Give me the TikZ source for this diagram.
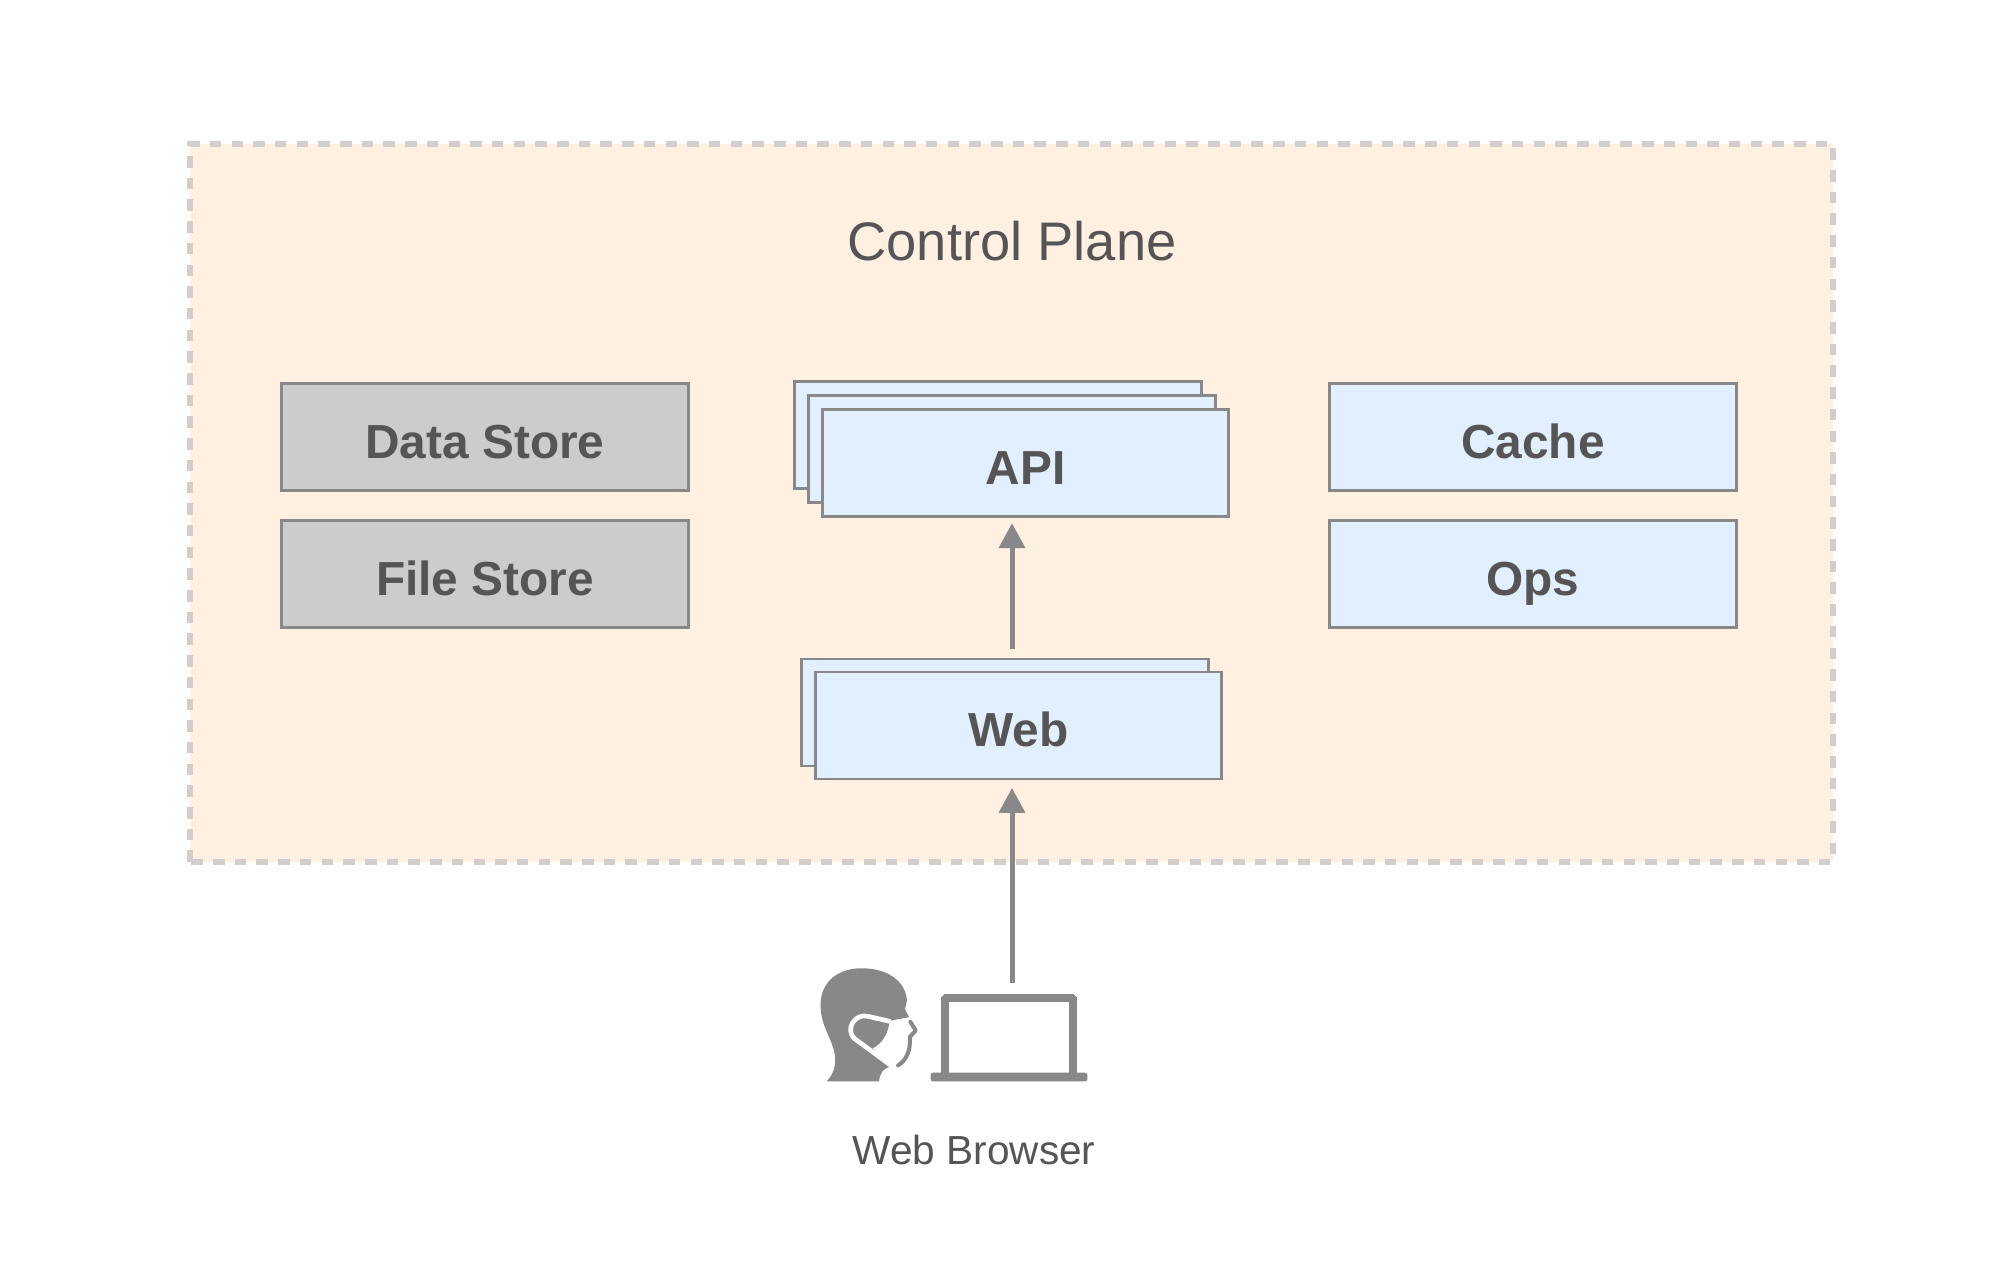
\documentclass[tikz,border=0pt]{standalone}
\usepackage{fontspec}
\setmainfont{Liberation Sans}
\usetikzlibrary{positioning,arrows.meta}
\definecolor{planefill}{HTML}{FFF0E2}
\definecolor{planeline}{HTML}{D3CDCB}
\definecolor{bluefill}{HTML}{E1EFFF}
\definecolor{storefill}{HTML}{CCCCCC}
\definecolor{edgegray}{HTML}{888888}
\definecolor{textgray}{HTML}{555555}

\begin{document}
\begin{tikzpicture}[
    node distance=0.30cm and 1.0cm,
    plane/.style={fill=planefill, draw=planeline, line width=0.052cm, dash pattern=on 0.115cm off 0.102cm},
    box/.style={rectangle, draw=edgegray, line width=0.028cm, outer sep=0pt, minimum width=4.065cm, minimum height=1.07cm, align=center, inner sep=0pt, text height=0.43cm, text depth=0pt, text=textgray, font=\fontsize{13.6}{16}\selectfont\bfseries},
    service/.style={box, fill=bluefill},
    store/.style={box, fill=storefill},
    arrow/.style={-{Triangle[length=2.5mm,width=2.57mm]}, draw=edgegray, fill=edgegray, line width=0.05cm},
    label/.style={text=textgray, inner sep=0pt, anchor=base},
]
\useasboundingbox (0,0) rectangle (20.06,12.64);

% ====== Control plane ======
\draw[plane] (1.90,4.02) rectangle (18.33,11.20);
\node[label, font=\fontsize{15.45}{18}\selectfont] (title) at (10.12,10.03) {Control Plane};

% ====== Stores ======
\node[store] (data) at (4.85,8.27) {Data Store};
\node[store, below=of data] (file) {File Store};

% ====== Cache and ops ======
\node[service] (cache) at (15.33,8.27) {Cache};
\node[service, below=of cache] (ops) {Ops};

% ====== API stack ======
\node[service] (apiBack) at (9.98,8.29) {};
\node[service] (apiMid) at (10.12,8.15) {};
\node[service] (apiFront) at (10.255,8.01) {API};

% ====== Web stack ======
\node[service] (webBack) at (10.05,5.515) {};
\node[service] (webFront) at (10.185,5.385) {Web};

% ====== Browser ======
\node[rectangle, draw=edgegray, line width=0.078cm, rounded corners=0.3pt, outer sep=0pt, inner sep=0pt, minimum width=1.28cm, minimum height=0.79cm] (laptop) at (10.09,2.265) {};
\node[rectangle, fill=edgegray, rounded corners=0.6pt, outer sep=0pt, inner sep=0pt, minimum width=1.567cm, minimum height=0.087cm] (base) at (10.09,1.87) {};
\node[label, font=\fontsize{11.55}{14}\selectfont] (browser) at (9.74,1.00) {Web Browser};

% Head with mask
\begin{scope}[shift={(7.80,3.24)}, x=0.00333cm, y=-0.00333cm]
\fill[edgegray] (140,425) .. controls (160,405) and (172,375) .. (163,335)
    .. controls (150,285) and (122,255) .. (122,195)
    .. controls (122,125) and (175,85) .. (245,85)
    .. controls (320,85) and (375,120) .. (382,180)
    -- (376,208) -- (388,232) -- (330,243)
    .. controls (325,280) and (310,310) .. (278,326)
    -- (335,380) .. controls (310,385) and (300,400) .. (298,425) -- cycle;
\draw[white, line width=0.047cm, line join=round] (332,245) -- (262,229)
    .. controls (225,221) and (193,270) .. (226,298) -- (335,378);
\draw[edgegray, line width=0.04cm, line cap=round, line join=round] (392,246) -- (408,272) -- (390,292)
    .. controls (394,330) and (380,362) .. (355,377);
\end{scope}

% ====== Arrows ======
\draw[arrow, shorten <=0.097cm, shorten >=0.067cm] (webBack.north -| apiMid.south) -- (apiFront.south -| apiMid.south);
\draw[arrow, shorten <=0.15cm, shorten >=0.09cm] (laptop.north -| apiMid.south) -- (webFront.south -| apiMid.south);

\end{tikzpicture}
\end{document}
